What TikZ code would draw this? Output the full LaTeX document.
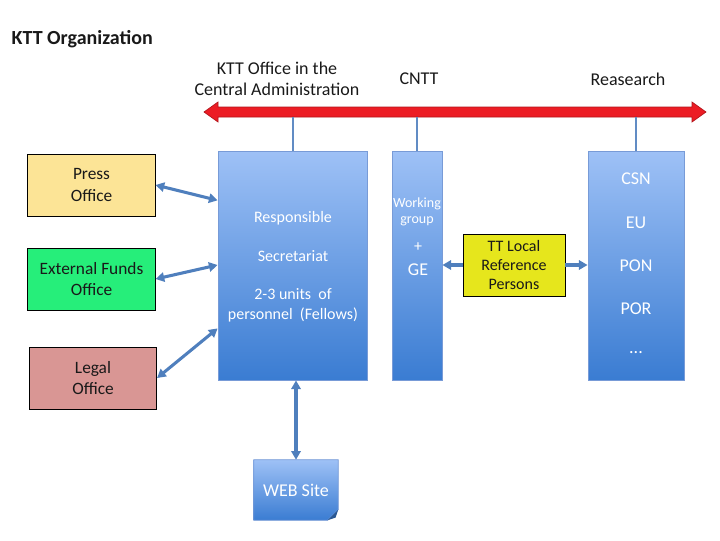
\documentclass[tikz,border=0pt]{standalone}
\usepackage{fontspec}
\setmainfont{Carlito}
\usetikzlibrary{arrows.meta,backgrounds}
\definecolor{pressfill}{RGB}{252,228,150}
\definecolor{fundsfill}{RGB}{38,238,122}
\definecolor{legalfill}{RGB}{217,150,148}
\definecolor{ttfill}{RGB}{230,230,28}
\definecolor{blutop}{RGB}{158,193,246}
\definecolor{blubot}{RGB}{58,124,210}
\definecolor{bluedge}{RGB}{120,155,215}
\definecolor{linkblue}{RGB}{79,127,189}
\definecolor{barred}{RGB}{236,28,36}
\definecolor{txt}{RGB}{25,25,25}
\tikzstyle{every node}=[font=\fontsize{13}{15.5}\selectfont, text=txt]

\begin{document}
\begin{tikzpicture}[x=0.75pt, y=-0.75pt, >={Triangle[length=6.5pt,width=7pt]},
    office/.style={draw=black, line width=0.6pt, inner sep=0pt, align=center,
        minimum width=95.5pt, minimum height=46.5pt, font=\fontsize{13}{16.2}\selectfont},
    column/.style={draw=bluedge, line width=0.6pt, top color=blutop, bottom color=blubot,
        inner sep=0pt, minimum height=171.75pt},
    inbox/.style={text=white, font=\fontsize{12}{14}\selectfont},
    big/.style={font=\fontsize{13.5}{16}\selectfont},
    link/.style={linkblue, line width=2.3pt},
    tick/.style={linkblue!90, line width=1.5pt}]
    \useasboundingbox (0,0) rectangle (720,540);

    % title and headings
    \node[font=\bfseries\fontsize{15}{18}\selectfont, anchor=west] (title) at (7,39) {KTT Organization};
    \node[align=center, big, inner sep=0pt] (hkto) at (277,79) {KTT Office in the\\Central Administration};
    \node[big] (hcntt) at (419,79) {CNTT};
    \node[big] (hres) at (628,79) {Reasearch};

    % red bar
    \fill[barred, draw=barred!75!black, line width=0.5pt]
        (204,112) -- (218,102) -- (218,107) -- (692,107) -- (692,102) -- (706,112)
        -- (692,122) -- (692,117) -- (218,117) -- (218,122) -- cycle;

    % columns
    \node[column, minimum width=111.75pt] (main) at (292.5,265.5) {};
    \node[column, minimum width=37.5pt] (work) at (417,265.5) {};
    \node[column, minimum width=72pt] (res) at (636,265.5) {};

    \node[inbox] (resp) at (293,218) {Responsible};
    \node[inbox] (secr) at (293,256) {Secretariat};
    \node[inbox] (units) at (293,294) {2-3 units~ of};
    \node[inbox] (pers) at (293,315) {personnel~ (Fellows)};

    \node[inbox, align=center, font=\fontsize{10.5}{12.5}\selectfont] (wg) at (417,212) {Working\\group};
    \node[inbox] (plus) at (418,247) {+};
    \node[inbox, big] (ge) at (418,270) {GE};

    \node[inbox, big] (csn) at (636,179) {CSN};
    \node[inbox, big] (eu) at (636,223) {EU};
    \node[inbox, big] (pon) at (636,266) {PON};
    \node[inbox, big] (por) at (636,309) {POR};
    \node[inbox, big] (dots) at (636,353) {...};

    % ticks under the bar
    \draw[tick] (main.north) -- ++(0,-34);
    \draw[tick] (work.north) -- ++(0,-34);
    \draw[tick] (res.north) -- ++(0,-34);

    % offices
    \node[office, fill=pressfill] (press) at (91.5,185) {Press\\Office};
    \node[office, fill=fundsfill] (funds) at (91.5,279) {External Funds\\Office};
    \node[office, fill=legalfill] (legal) at (93,378) {Legal\\Office};

    \node[office, fill=ttfill, minimum width=76.5pt,
        font=\fontsize{12}{14.5}\selectfont] (ttl) at (514,265) {TT Local\\Reference\\Persons};

    \draw[link, <->] (press.east) -- ([yshift=-11.5pt]main.north west |- press.east);
    \draw[link, <->] (funds.east) -- ([yshift=10.5pt]main.north west |- funds.east);
    \draw[link, <->] (legal.east) -- ([yshift=39pt]main.south west);
    \draw[link, ->] (ttl.west) -- (work.east |- ttl.west);
    \draw[link, ->] (ttl.east) -- (res.west |- ttl.east);

    % web site
    \node[text=white, big, minimum width=63pt, minimum height=45pt, inner sep=0pt] (web) at (296,490) {WEB Site};
    \begin{scope}[on background layer]
        \path[top color=blutop, bottom color=blubot, draw=bluedge, line width=0.6pt]
            (web.north west) -- (web.north east) -- ([yshift=8pt]web.south east)
            -- ([xshift=-8pt]web.south east) -- (web.south west) -- cycle;
        \path[fill=blubot!70!black] ([yshift=8pt]web.south east) -- ([xshift=-8pt]web.south east)
            -- ([xshift=-2pt,yshift=2pt]web.south east) -- cycle;
    \end{scope}
    \draw[link, <->] (web.north) -- (web.north |- main.south);
\end{tikzpicture}
\end{document}
